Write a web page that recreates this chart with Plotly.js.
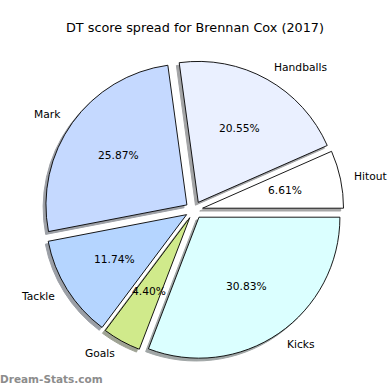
<!DOCTYPE html>
<html>
<head>
<meta charset="utf-8">
<script src="https://cdn.plot.ly/plotly-3.0.1.min.js"></script>
<style>html,body{margin:0;padding:0;background:#fff;}#chart{width:390px;height:390px;}</style>
</head>
<body>
<div id="chart"></div>
<script>
// ---- data ----
const categories = ["Hitout", "Handballs", "Mark", "Tackle", "Goals", "Kicks"];
const shares = [6.61, 20.55, 25.87, 11.74, 4.40, 30.83];
const sliceColors = ["#ffffff", "#eaf0ff", "#c5d9ff", "#b5d5ff", "#d0ea8b", "#dbffff"];
const chartTitle = "DT score spread for Brennan Cox (2017)";
const watermark = "Dream-Stats.com";

// ---- layout params ----
const W = 390, H = 390;
const explode = 0.062;
const dom = {x: [0.1136, 0.8813], y: [0.0777, 0.8454]};
const shadowOff = 0.02; // fraction of radius, matplotlib style

const half = Math.min((dom.x[1]-dom.x[0])*W, (dom.y[1]-dom.y[0])*H) / 2;
const r = half / (1 + explode);
const cx = W * (dom.x[0] + dom.x[1]) / 2;
const cy = H * (1 - (dom.y[0] + dom.y[1]) / 2);
const total = shares.reduce((a,b)=>a+b,0);
// first slice starts at 3 o'clock and runs counterclockwise
const rot = 90 - shares[0] / total * 360;

function hexToRgb(h){const n=parseInt(h.slice(1),16);return [(n>>16)&255,(n>>8)&255,n&255];}
const shadowColors = sliceColors.map(c => {
  const [R,G,B] = hexToRgb(c);
  const f = v => Math.round(0.5*0.3*v + 0.5*255);
  return `rgb(${f(R)},${f(G)},${f(B)})`;
});

const pulls = categories.map(() => explode);
const so = shadowOff * r;

const shadow = {
  type: 'pie', values: shares, labels: categories, sort: false,
  direction: 'counterclockwise', rotation: rot, pull: pulls,
  marker: {colors: shadowColors, line: {color: shadowColors, width: 1}},
  textinfo: 'none', hoverinfo: 'skip', showlegend: false,
  domain: {x: [dom.x[0] - so/W, dom.x[1] - so/W], y: [dom.y[0] - so/H, dom.y[1] - so/H]}
};
const main = {
  type: 'pie', values: shares, labels: categories, sort: false,
  direction: 'counterclockwise', rotation: rot, pull: pulls,
  marker: {colors: sliceColors, line: {color: '#000000', width: 0.9}},
  textinfo: 'none', showlegend: false,
  domain: dom
};

// text placement like matplotlib (labeldistance 1.1, pctdistance 0.6)
const annotations = [];
let cum = 0;
shares.forEach((v, i) => {
  const mid = (cum + v/2) / total * 2 * Math.PI;
  cum += v;
  const c = Math.cos(mid), s = Math.sin(mid);
  const lx = cx + (1.1 + explode) * r * c, ly = cy - (1.1 + explode) * r * s;
  annotations.push({
    x: lx / W, y: 1 - ly / H, xref: 'paper', yref: 'paper',
    text: categories[i], showarrow: false, borderpad: 0, borderwidth: 0,
    xanchor: c > 0 ? 'left' : 'right', yanchor: 'middle',
    font: {family: 'DejaVu Sans', size: 10.7, color: '#000'}
  });
  const px = cx + (0.6 + explode) * r * c, py = cy - (0.6 + explode) * r * s;
  annotations.push({
    x: px / W, y: 1 - py / H, xref: 'paper', yref: 'paper',
    text: v.toFixed(2) + '%', showarrow: false, borderpad: 0, borderwidth: 0,
    xanchor: 'center', yanchor: 'middle',
    font: {family: 'DejaVu Sans', size: 10.7, color: '#000'}
  });
});
annotations.push({
  x: 0, y: 1 - 379 / H, xref: 'paper', yref: 'paper', text: '<b>' + watermark + '</b>',
  showarrow: false, borderpad: 0, borderwidth: 0, xanchor: 'left', yanchor: 'middle',
  font: {family: 'DejaVu Sans', size: 10.5, color: '#8c8c8c'}
});

const layout = {
  width: W, height: H,
  margin: {l: 0, r: 0, t: 0, b: 0},
  paper_bgcolor: '#ffffff', plot_bgcolor: '#ffffff',
  title: {text: chartTitle, x: 0.5, xanchor: 'center', y: 1 - 27.5 / H, yanchor: 'middle', yref: 'container',
          font: {family: 'DejaVu Sans', size: 12.8, color: '#000'}},
  annotations: annotations,
  showlegend: false
};

Plotly.newPlot('chart', [shadow, main], layout, {staticPlot: true, displayModeBar: false});
</script>
</body>
</html>
